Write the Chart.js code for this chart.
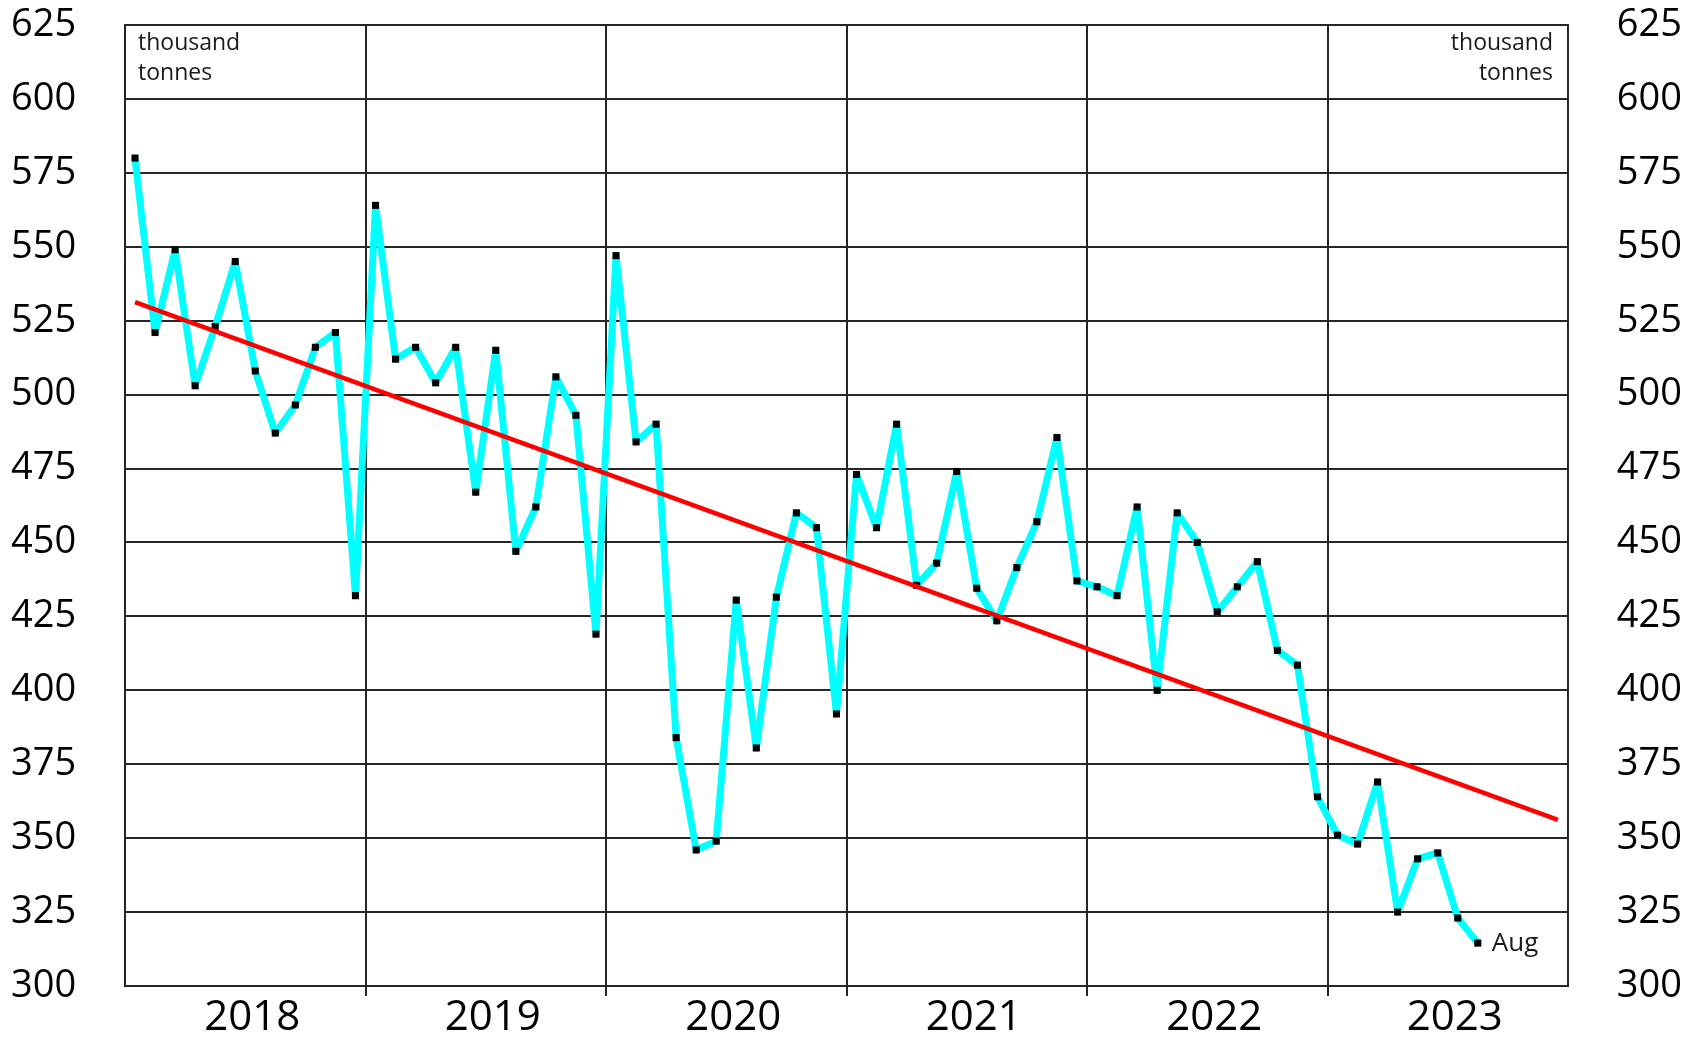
<!DOCTYPE html>
<html><head><meta charset="utf-8">
<script src="https://cdn.jsdelivr.net/npm/chart.js@4/dist/chart.umd.min.js"></script>
<style>html,body{margin:0;padding:0;background:#fff;}canvas{display:block;}</style>
</head><body>
<canvas id="c" width="1696" height="1037"></canvas>
<script>
// ---- data (thousand tonnes, monthly) ----
const years = ['2018', '2019', '2020', '2021', '2022', '2023'];
const v2018 = [580, 521, 549, 503, 523, 545, 508, 487, 496.5, 516, 521, 432];
const v2019 = [564, 512, 516, 504, 516, 467, 515, 447, 462, 506, 493, 419];
const v2020 = [547, 484, 490, 384, 346, 349, 430.5, 380.5, 431.5, 460, 455, 392];
const v2021 = [473, 455, 490, 435.5, 443, 474, 434.5, 423.5, 441.5, 457, 485.5, 437];
const v2022 = [435, 432, 462, 400, 460, 450, 426.5, 435, 443.5, 413.5, 408.5, 364];
const v2023 = [351, 348, 369, 325, 343, 345, 323, 314.5];
const trendMonths = [0, 71];
const trendValues = [531.3, 356.2];
const yMin = 300, yMax = 625, yStep = 25;
const unitLabel = ['thousand', 'tonnes'];
const lastLabel = 'Aug';

const monthly = [].concat(v2018, v2019, v2020, v2021, v2022, v2023);
const FONT = "'Open Sans', sans-serif";
const GRID = '#262626';

const textPlugin = {
  id: 'texts',
  afterDatasetsDraw(chart) {
    const {ctx, chartArea: a, scales} = chart;
    ctx.save();
    ctx.fillStyle = '#1a1a1a';
    ctx.font = '23px ' + FONT;
    ctx.textBaseline = 'alphabetic';
    ctx.textAlign = 'left';
    ctx.fillText(unitLabel[0], a.left + 13, a.top + 25);
    ctx.fillText(unitLabel[1], a.left + 13, a.top + 55);
    ctx.textAlign = 'right';
    ctx.fillText(unitLabel[0], a.right - 15, a.top + 25);
    ctx.fillText(unitLabel[1], a.right - 15, a.top + 55);
    const i = monthly.length - 1;
    const px = scales.x.getPixelForValue(i), py = scales.y.getPixelForValue(monthly[i]);
    ctx.font = '26px ' + FONT;
    ctx.textAlign = 'left';
    ctx.fillText(lastLabel, px + 14, py + 8);
    ctx.restore();
  }
};

new Chart(document.getElementById('c'), {
  type: 'line',
  data: {
    datasets: [
      {
        label: 'trend',
        data: trendMonths.map((x, k) => ({x: x, y: trendValues[k]})),
        borderColor: '#ff0000', borderWidth: 4.5, pointRadius: 0,
        borderCapStyle: 'butt', order: 0, tension: 0
      },
      {
        label: 'monthly',
        data: monthly.map((y, i) => ({x: i, y: y})),
        borderColor: '#00ffff', borderWidth: 7, borderJoinStyle: 'round',
        pointStyle: 'rect', pointRadius: 5, pointBackgroundColor: '#000',
        pointBorderWidth: 0, order: 1, tension: 0
      }
    ]
  },
  options: {
    responsive: false, animation: false, devicePixelRatio: 1,
    layout: {padding: {top: 25, left: 11, right: 14, bottom: 0}},
    plugins: {legend: {display: false}, tooltip: {enabled: false}},
    scales: {
      x: {
        type: 'linear', position: 'bottom', min: -0.5, max: 71.5, weight: 0,
        afterBuildTicks: s => { s.ticks = years.map((_, k) => ({value: k * 12 - 0.5})).concat([{value: years.length * 12 - 0.5}]); },
        ticks: {display: false, autoSkip: false, padding: 0},
        grid: {
          color: GRID, lineWidth: 2, drawTicks: true, tickLength: 10,
          tickColor: c => (c.index === 0 || c.index === years.length) ? 'rgba(0,0,0,0)' : GRID
        },
        border: {display: true, color: GRID, width: 2},
        afterFit: s => { s.height = 10; }
      },
      xl: {
        type: 'linear', position: 'bottom', min: -0.5, max: 71.5, weight: 1,
        afterBuildTicks: s => { s.ticks = years.map((_, k) => ({value: k * 12 + 5.85})); },
        ticks: {
          autoSkip: false, maxRotation: 0, minRotation: 0, padding: 1, color: '#000',
          font: {family: FONT, size: 42, lineHeight: 1},
          callback: (v, i) => years[i]
        },
        grid: {display: false, drawTicks: false},
        border: {display: false},
        afterFit: s => { s.height = 41; }
      },
      y: {
        type: 'linear', position: 'left', min: yMin, max: yMax,
        ticks: {stepSize: yStep, padding: 0, crossAlign: 'far', color: '#000', font: {family: FONT, size: 38}},
        grid: {color: GRID, lineWidth: 2, drawTicks: false},
        border: {display: true, color: GRID, width: 2},
        afterFit: s => { s.width = 114; }
      },
      y2: {
        type: 'linear', position: 'right', min: yMin, max: yMax,
        ticks: {stepSize: yStep, padding: 0, crossAlign: 'far', color: '#000', font: {family: FONT, size: 38}},
        grid: {display: false, drawTicks: false},
        border: {display: true, color: GRID, width: 2},
        afterFit: s => { s.width = 114; }
      }
    }
  },
  plugins: [textPlugin]
});
</script>
</body></html>
